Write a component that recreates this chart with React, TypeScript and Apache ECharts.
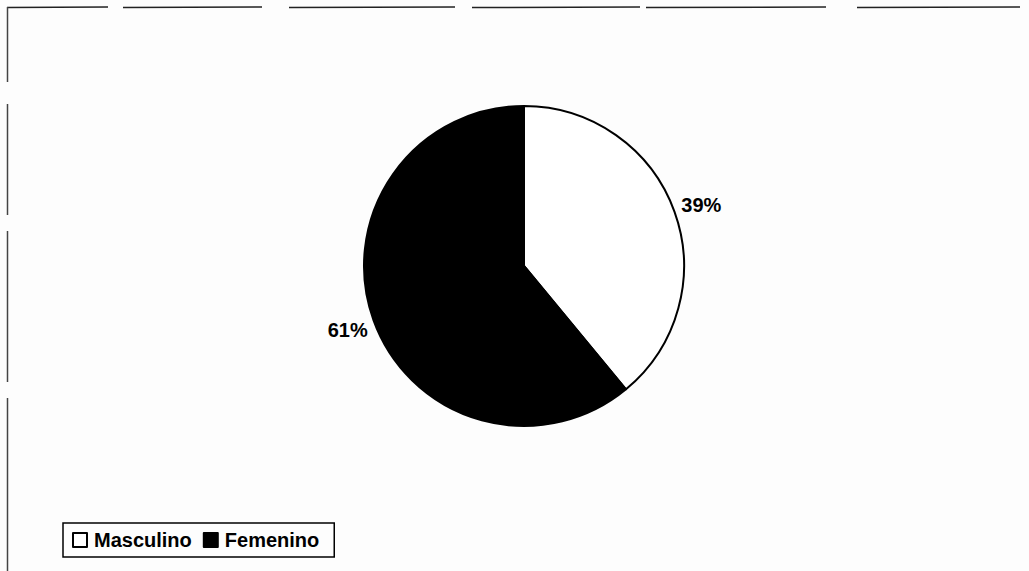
import React, { useEffect, useRef } from "react";
import * as echarts from "echarts";

const categories = ["Masculino", "Femenino"];
const values = [39, 61];
const sliceColors = ["#ffffff", "#000000"];

// scanned frame segments (decoration)
const topSegments: [number, number][] = [
  [7, 108], [123, 262], [289, 455], [472, 640], [646, 826], [857, 1020],
];
const leftSegments: [number, number][] = [
  [7, 82], [104, 215], [231, 382], [398, 571],
];

// small nudges of the outside labels (position tweaks only)
const labelShift = [
  { dx: -2, dy: -5 },
  { dx: 3, dy: 8 },
];

export default function App() {
  const ref = useRef<HTMLDivElement>(null);
  useEffect(() => {
    if (!ref.current) return;
    const chart = echarts.init(ref.current, undefined, { renderer: "svg" });
    const graphics: any[] = [];
    topSegments.forEach(([a, b]) =>
      graphics.push({
        type: "line",
        shape: { x1: a, y1: 7.5, x2: b, y2: 7 },
        style: { stroke: "#222", lineWidth: 1.5 },
      })
    );
    leftSegments.forEach(([a, b]) =>
      graphics.push({
        type: "line",
        shape: { x1: 7.5, y1: a, x2: 7.5, y2: b },
        style: { stroke: "#444", lineWidth: 1.5 },
      })
    );
    chart.setOption({
      animation: false,
      backgroundColor: "#fdfdfd",
      textStyle: { fontFamily: "Liberation Sans, Arial, sans-serif" },
      graphic: graphics,
      legend: {
        data: categories,
        left: 63,
        top: 523,
        orient: "horizontal",
        icon: "rect",
        itemWidth: 14,
        itemHeight: 14,
        itemGap: 11,
        borderColor: "#000",
        borderWidth: 1.5,
        padding: [7, 15, 7, 9],
        textStyle: {
          fontSize: 20,
          fontWeight: "bold",
          color: "#000",
          fontFamily: "Liberation Sans, Arial, sans-serif",
          padding: [0, 0, 0, 2],
        },
      },
      series: [
        {
          type: "pie",
          center: [524, 266],
          radius: 160,
          startAngle: 90,
          clockwise: true,
          avoidLabelOverlap: false,
          data: categories.map((name, i) => ({
            name,
            value: values[i],
            itemStyle: {
              color: sliceColors[i],
              borderColor: "#000",
              borderWidth: 2,
            },
          })),
          label: {
            show: true,
            position: "outside",
            formatter: "{d}%",
            fontSize: 20,
            fontWeight: "bold",
            color: "#000",
            fontFamily: "Liberation Sans, Arial, sans-serif",
          },
          labelLine: { show: false, length: 4, length2: 0 },
          labelLayout: (p: any) => labelShift[p.dataIndex] || {},
          emphasis: { disabled: true },
        },
      ],
    });
    return () => chart.dispose();
  }, []);
  return (
    <div
      ref={ref}
      style={{ position: "fixed", left: 0, top: 0, width: 1029, height: 571 }}
    />
  );
}
